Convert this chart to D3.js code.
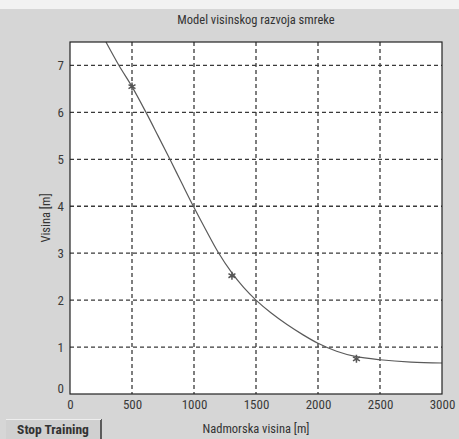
<!DOCTYPE html>
<html>
<head>
<meta charset="utf-8">
<script src="https://cdn.jsdelivr.net/npm/d3@7"></script>
<style>
  html, body { margin: 0; padding: 0; background: #d6d6d6; }
  svg { display: block; }
  text { font-family: "Liberation Sans Narrow", "Arial Narrow", "Roboto Condensed", "Liberation Sans", sans-serif; }
</style>
</head>
<body>
<script>
// measured points (altitude m, height m)
var measX = [500, 1306, 2310];
var measY = [6.55, 2.52, 0.75];

// fitted model curve
var curveX = [290, 395, 500, 613, 710, 806, 900, 995, 1095, 1195, 1300, 1400, 1500, 1620, 1750, 1880, 2000, 2150, 2300, 2500, 2750, 3000];
var curveY = [7.5, 7.0, 6.55, 6.0, 5.5, 5.0, 4.5, 4.0, 3.5, 3.02, 2.6, 2.27, 2.0, 1.73, 1.48, 1.26, 1.08, 0.91, 0.8, 0.73, 0.68, 0.66];

var xTicks = [0, 500, 1000, 1500, 2000, 2500, 3000];
var yTicks = [0, 1, 2, 3, 4, 5, 6, 7];

var chartTitle = 'Model visinskog razvoja smreke';
var xLabel = 'Nadmorska visina [m]';
var yLabel = 'Visina [m]';

var W = 459, H = 439;
var margin = { top: 42, right: 17, bottom: 45, left: 70 };
var width = W - margin.left - margin.right;
var height = H - margin.top - margin.bottom;

var svg = d3.select('body').append('svg').attr('width', W).attr('height', H);

// light band at the top of the scan
svg.append('rect').attr('x', 0).attr('y', 0).attr('width', W).attr('height', 9).attr('fill', '#f2f2f2');

var g = svg.append('g').attr('transform', 'translate(' + margin.left + ',' + margin.top + ')');

var x = d3.scaleLinear().domain([0, 3000]).range([0, width]);
var y = d3.scaleLinear().domain([0, 7.5]).range([height, 0]);

g.append('rect').attr('width', width).attr('height', height).attr('fill', '#fff');

// grid
g.selectAll('.gx').data(xTicks.filter(function (d) { return d > 0 && d < 3000; }))
  .enter().append('line')
  .attr('x1', function (d) { return x(d); }).attr('x2', function (d) { return x(d); })
  .attr('y1', 0).attr('y2', height)
  .attr('stroke', '#3a3a3a').attr('stroke-width', 1.3).attr('stroke-dasharray', '4,3');

g.selectAll('.gy').data(yTicks.filter(function (d) { return d > 0; }))
  .enter().append('line')
  .attr('x1', 0).attr('x2', width)
  .attr('y1', function (d) { return y(d); }).attr('y2', function (d) { return y(d); })
  .attr('stroke', '#3a3a3a').attr('stroke-width', 1.3).attr('stroke-dasharray', '4,3');

// curve
var line = d3.line()
  .x(function (d, i) { return x(curveX[i]); })
  .y(function (d, i) { return y(curveY[i]); })
  .curve(d3.curveCatmullRom);

g.append('path').datum(curveX).attr('d', line)
  .attr('fill', 'none').attr('stroke', '#5a5a5a').attr('stroke-width', 1.2);

// star markers
var star = d3.symbol().type(d3.symbolAsterisk || d3.symbolCross).size(45);
g.selectAll('.pt').data(measX).enter().append('path')
  .attr('transform', function (d, i) { return 'translate(' + x(d) + ',' + y(measY[i]) + ')'; })
  .attr('d', star)
  .attr('fill', 'none').attr('stroke', '#555').attr('stroke-width', 1.5);

// axes box
g.append('rect').attr('width', width).attr('height', height)
  .attr('fill', 'none').attr('stroke', '#222').attr('stroke-width', 1.2);

var xAxis = d3.axisBottom(x).tickValues(xTicks).tickFormat(d3.format('d')).tickSize(0).tickPadding(6);
var yAxis = d3.axisLeft(y).tickValues(yTicks).tickFormat(d3.format('d')).tickSize(0).tickPadding(6);

var xa = g.append('g').attr('transform', 'translate(0,' + height + ')').call(xAxis);
var ya = g.append('g').call(yAxis);
[xa, ya].forEach(function (a) {
  a.select('.domain').remove();
  a.selectAll('text').attr('font-size', 13).attr('fill', '#3a3a3a')
    .attr('font-family', '"Liberation Sans Narrow", "Arial Narrow", sans-serif');
});
ya.select('.tick text').attr('dy', '-0.1em');

svg.append('text').attr('x', margin.left + width / 2).attr('y', 24)
  .attr('text-anchor', 'middle').attr('font-size', 12.5).attr('fill', '#333').text(chartTitle);

svg.append('text').attr('x', margin.left + width / 2).attr('y', 433)
  .attr('text-anchor', 'middle').attr('font-size', 12.5).attr('fill', '#333').text(xLabel);

svg.append('text').attr('transform', 'translate(50,' + (margin.top + height / 2) + ') rotate(-90)')
  .attr('text-anchor', 'middle').attr('font-size', 12.5).attr('fill', '#333').text(yLabel);

// button
var btn = svg.append('g').attr('transform', 'translate(6,419)');
btn.append('rect').attr('width', 95).attr('height', 20).attr('fill', '#d0d0d0');
btn.append('line').attr('x1', 95).attr('x2', 95).attr('y1', 0).attr('y2', 20).attr('stroke', '#333').attr('stroke-width', 1.5);
btn.append('line').attr('x1', 0).attr('x2', 95).attr('y1', 0.5).attr('y2', 0.5).attr('stroke', '#eee');
btn.append('text').attr('x', 47).attr('y', 15).attr('text-anchor', 'middle')
  .attr('font-size', 13.5).attr('font-weight', 'bold').attr('fill', '#333').text('Stop Training');
</script>
</body>
</html>
